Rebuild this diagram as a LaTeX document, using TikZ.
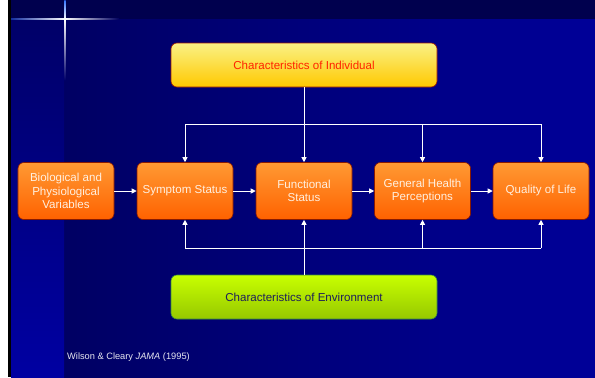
\documentclass[tikz,border=0pt]{standalone}
\usepackage{fontspec}
\setmainfont{Liberation Sans}
\usetikzlibrary{arrows.meta}
\definecolor{bandtop}{HTML}{00004E}
\definecolor{mainleft}{HTML}{00005E}
\definecolor{mainright}{HTML}{000098}
\definecolor{coltop}{HTML}{000068}
\definecolor{colbot}{HTML}{0000A2}
\definecolor{orgtop}{HTML}{FF9933}
\definecolor{orgbot}{HTML}{FF6200}
\definecolor{orgedge}{HTML}{8A1A00}
\definecolor{yeltop}{HTML}{FAF285}
\definecolor{yelbot}{HTML}{FFC800}
\definecolor{yeledge}{HTML}{9A1A00}
\definecolor{grntop}{HTML}{C8FF00}
\definecolor{grnbot}{HTML}{96C800}
\definecolor{grnedge}{HTML}{3C8C3C}
\definecolor{boxtext}{HTML}{FFF0E0}
\definecolor{redtext}{HTML}{FF2200}
\definecolor{envtext}{HTML}{1E1E5A}
\definecolor{foottext}{HTML}{E6E6F0}
\definecolor{flare}{HTML}{3070FF}
\begin{document}
\begin{tikzpicture}[x=1bp,y=1bp,
  orangebox/.style={rectangle, rounded corners=6bp, minimum width=96bp, minimum height=57bp,
    top color=orgtop, bottom color=orgbot, draw=orgedge, line width=0.6bp,
    text=boxtext, font=\fontsize{11.6}{13.5}\selectfont, align=center, inner sep=0pt},
  widebox/.style={rectangle, rounded corners=6bp, minimum width=266bp, minimum height=44bp,
    line width=0.6bp, font=\fontsize{11.6}{13.5}\selectfont, inner sep=0pt},
  link/.style={draw=white, line width=0.9bp},
  arr/.style={link, -{Triangle[width=5bp,length=5bp]}}
]
\useasboundingbox (0,0) rectangle (595,-377);
% background
\fill[white] (0,0) rectangle (595,-377);
\fill[black] (8,0) rectangle (11,-377);
\shade[left color=mainleft, right color=mainright] (11,-19) rectangle (595,-377);
\fill[bandtop] (11,0) rectangle (595,-19);
\shade[top color=coltop, bottom color=colbot] (11,-19) rectangle (64,-377);
% flare
\shade[left color=mainleft!60!flare, right color=mainleft, middle color=white] (11,-18.4) rectangle (119,-19.6);
\shade[top color=flare, bottom color=coltop, middle color=white] (64.4,0) rectangle (65.6,-38);
\shade[top color=white, bottom color=coltop] (64.4,-19) rectangle (65.6,-80);
\fill[white] (65,-19) circle (1.5bp);

% nodes
\node[widebox, top color=yeltop, bottom color=yelbot, draw=yeledge, text=redtext] (ind) at (304,-65) {Characteristics of Individual};
\node[orangebox] (bio) at (66,-191) {Biological and\\Physiological\\Variables};
\node[orangebox] (sym) at (185,-191) {Symptom Status};
\node[orangebox] (fun) at (304,-191) {Functional\\Status};
\node[orangebox] (ghp) at (422.5,-191) {General Health\\Perceptions};
\node[orangebox] (qol) at (541,-191) {Quality of Life};
\node[widebox, top color=grntop, bottom color=grnbot, draw=grnedge, text=envtext] (env) at (304,-297) {Characteristics of Environment};
\node[anchor=west, text=foottext, font=\fontsize{9.3}{11}\selectfont, inner sep=0pt] (cite) at (67,-357) {Wilson \& Cleary \textit{JAMA} (1995)};

% top connectors
\coordinate (tl) at (185,-124);
\coordinate (tr) at (541,-124);
\draw[link] (ind.south) -- (ind.south |- tl);
\draw[link] (tl) -- (tr);
\draw[arr] (tl) -- (sym.north);
\draw[arr] (fun.north |- tl) -- (fun.north);
\draw[arr] (ghp.north |- tl) -- (ghp.north);
\draw[arr] (tr) -- (qol.north);

% bottom connectors
\coordinate (bl) at (185,-248);
\coordinate (br) at (541,-248);
\draw[link] (bl) -- (br);
\draw[arr] (bl) -- (sym.south);
\draw[arr] (env.north) -- (fun.south);
\draw[arr] (ghp.south |- bl) -- (ghp.south);
\draw[arr] (br) -- (qol.south);

% row arrows
\draw[arr] (bio.east) -- (sym.west);
\draw[arr] (sym.east) -- (fun.west);
\draw[arr] (fun.east) -- (ghp.west);
\draw[arr] (ghp.east) -- (qol.west);
\end{tikzpicture}
\end{document}
